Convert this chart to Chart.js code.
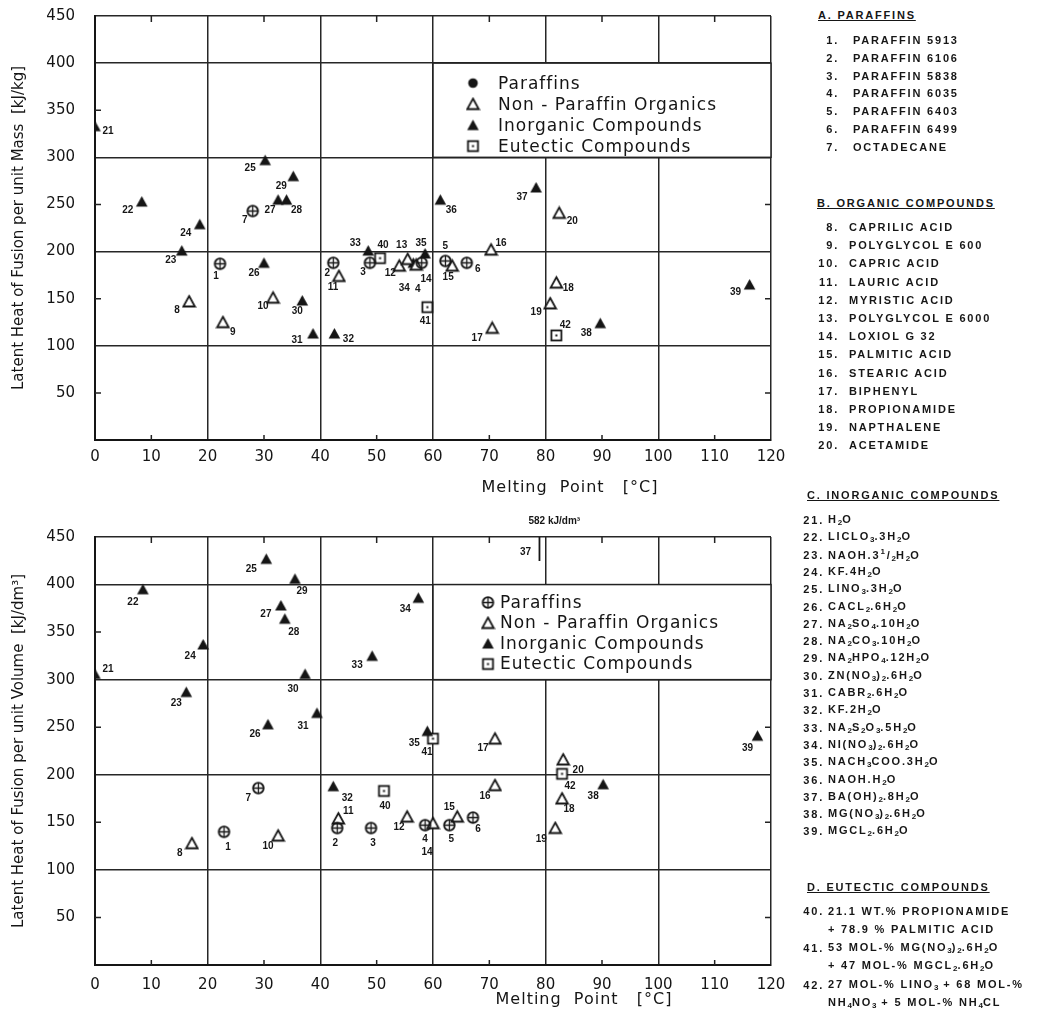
<!DOCTYPE html>
<html>
<head>
<meta charset="utf-8">
<script src="https://cdn.jsdelivr.net/npm/chart.js@4.4.1/dist/chart.umd.min.js"></script>
<style>
  body { margin: 0; background: #fff; width: 1056px; height: 1018px; overflow: hidden; position: relative; }
  #massChart { position: absolute; left: 0; top: 0; }
  #volChart { position: absolute; left: 0; top: 505px; }
  #names div { position: absolute; white-space: nowrap; transform: translateY(-50%);
               font: bold 11px "Liberation Sans", sans-serif; letter-spacing: 1.8px; color: #161616; }
  #names .hd { text-decoration: underline; }
  #names sub { font-size: 8px; vertical-align: -2px; letter-spacing: 0; }
</style>
</head>
<body>
<canvas id="massChart" width="800" height="505"></canvas>
<canvas id="volChart" width="800" height="513"></canvas>
<div id="names"></div>

<script>
// material numbers, grouped like the key on the right
const paraffinIds  = [1, 2, 3, 4, 5, 6, 7]
const organicIds   = [8, 9, 10, 11, 12, 13, 14, 15, 16, 17, 18, 19, 20]
const inorganicIds = [21, 22, 23, 24, 25, 26, 27, 28, 29, 30, 31, 32, 33, 34, 35, 36, 37, 38, 39]
const eutecticIds  = [40, 41, 42]

// upper chart: melting point [°C] vs latent heat per unit mass [kJ/kg]
const paraffinMelt  = [22.2, 42.3, 48.8, 58, 62.2, 66, 28]
const paraffinMass  = [187, 188, 188, 188, 190, 188, 243]
const organicMelt   = [16.7, 22.7, 31.6, 43.3, 54, 55.5, 57, 63.4, 70.3, 70.5, 81.9, 80.8, 82.4]
const organicMass   = [147, 125, 151, 174, 185, 192, 186, 185, 202, 119, 167, 145, 241]
const inorganicMelt = [0, 8.3, 15.4, 18.6, 30.2, 30, 32.5, 34, 35.2, 36.8, 38.7, 42.5, 48.5, 56.5, 58.6, 61.3, 78.3, 89.7, 116.2]
const inorganicMass = [333, 253, 201, 229, 297, 188, 255, 255, 280, 148, 113, 113, 201, 188, 198, 255, 268, 124, 165]
const eutecticMelt  = [50.6, 59, 81.9]
const eutecticMass  = [193, 141, 111]

// lower chart: melting point [°C] vs latent heat per unit volume [kJ/dm3]; null = not shown
const paraffinMeltV  = [22.9, 43, 49, 58.6, 62.9, 67.1, 29]
const paraffinVol    = [140, 144, 144, 147, 147, 155, 186]
const organicMeltV   = [17.2, null, 32.5, 43.2, 55.4, null, 60, 64.3, 71, 71, 82.9, 81.7, 83.1]
const organicVol     = [128, null, 136, 154, 156, null, 149, 156, 189, 238, 175, 144, 216]
const inorganicMeltV = [0, 8.5, 16.2, 19.2, 30.4, 30.7, 33, 33.7, 35.5, 37.3, 39.4, 42.3, 49.2, 57.4, 59, null, 78.9, 90.2, 117.6]
const inorganicVol   = [306, 395, 287, 337, 427, 253, 378, 364, 406, 306, 265, 188, 325, 386, 246, null, 582, 190, 241]
const eutecticMeltV  = [51.3, 60, 82.9]
const eutecticVol    = [183, 238, 201]

// names for the key
const groupTitles = ['A.  PARAFFINS', 'B.  ORGANIC COMPOUNDS', 'C.  INORGANIC COMPOUNDS', 'D.  EUTECTIC COMPOUNDS']
const paraffinNames = ['PARAFFIN 5913', 'PARAFFIN 6106', 'PARAFFIN 5838', 'PARAFFIN 6035', 'PARAFFIN 6403', 'PARAFFIN 6499', 'OCTADECANE']
const organicNames = ['CAPRILIC ACID', 'POLYGLYCOL E 600', 'CAPRIC ACID', 'LAURIC ACID', 'MYRISTIC ACID', 'POLYGLYCOL E 6000',
  'LOXIOL G 32', 'PALMITIC ACID', 'STEARIC ACID', 'BIPHENYL', 'PROPIONAMIDE', 'NAPTHALENE', 'ACETAMIDE']
const inorganicNames = ['H<sub>2</sub>O', 'LICLO<sub>3</sub>.3H<sub>2</sub>O', 'NAOH.3<sup style="font-size:8px">1</sup>/<sub>2</sub>H<sub>2</sub>O',
  'KF.4H<sub>2</sub>O', 'LINO<sub>3</sub>.3H<sub>2</sub>O', 'CACL<sub>2</sub>.6H<sub>2</sub>O', 'NA<sub>2</sub>SO<sub>4</sub>.10H<sub>2</sub>O',
  'NA<sub>2</sub>CO<sub>3</sub>.10H<sub>2</sub>O', 'NA<sub>2</sub>HPO<sub>4</sub>.12H<sub>2</sub>O', 'ZN(NO<sub>3</sub>)<sub>2</sub>.6H<sub>2</sub>O',
  'CABR<sub>2</sub>.6H<sub>2</sub>O', 'KF.2H<sub>2</sub>O', 'NA<sub>2</sub>S<sub>2</sub>O<sub>3</sub>.5H<sub>2</sub>O',
  'NI(NO<sub>3</sub>)<sub>2</sub>.6H<sub>2</sub>O', 'NACH<sub>3</sub>COO.3H<sub>2</sub>O', 'NAOH.H<sub>2</sub>O',
  'BA(OH)<sub>2</sub>.8H<sub>2</sub>O', 'MG(NO<sub>3</sub>)<sub>2</sub>.6H<sub>2</sub>O', 'MGCL<sub>2</sub>.6H<sub>2</sub>O']
const eutecticNames = [
  ['21.1 WT.% PROPIONAMIDE', '+ 78.9 % PALMITIC ACID'],
  ['53 MOL-% MG(NO<sub>3</sub>)<sub>2</sub>.6H<sub>2</sub>O', '+ 47 MOL-% MGCL<sub>2</sub>.6H<sub>2</sub>O'],
  ['27 MOL-% LINO<sub>3</sub> + 68 MOL-%', 'NH<sub>4</sub>NO<sub>3</sub> + 5 MOL-% NH<sub>4</sub>CL']]

const legendNames = ['Paraffins', 'Non - Paraffin Organics', 'Inorganic Compounds', 'Eutectic Compounds']

// where each number sits next to its marker (pixels)
const massLabelPos = {1:[-4,12], 2:[-6,10], 3:[-7,9], 4:[-4,26], 5:[0,-15], 6:[11,6], 7:[-8,9], 8:[-12,9], 9:[10,10],
  10:[-10,9], 11:[-6,11], 12:[-9,8], 13:[-6,-14], 14:[10,15], 15:[-4,12], 16:[10,-6], 17:[-15,10], 18:[12,6], 19:[-14,9],
  20:[13,8], 21:[13,5], 22:[-14,9], 23:[-11,10], 24:[-14,9], 25:[-15,8], 26:[-10,10], 27:[-8,11], 28:[10,11], 29:[-12,10],
  30:[-5,11], 31:[-16,7], 32:[14,6], 33:[-13,-7], 34:[-9,25], 35:[-4,-10], 36:[11,11], 37:[-14,10], 38:[-14,10],
  39:[-14,8], 40:[3,-13], 41:[-2,14], 42:[9,-10]}
const volLabelPos = {1:[4,15], 2:[-2,15], 3:[2,15], 4:[0,14], 5:[2,14], 6:[5,12], 7:[-10,10], 8:[-12,10], 10:[-10,11],
  11:[10,-7], 12:[-8,11], 14:[-6,29], 15:[-8,-9], 16:[-10,11], 17:[-12,10], 18:[7,11], 19:[-14,11], 20:[15,11],
  21:[13,-5], 22:[-10,13], 23:[-10,11], 24:[-13,12], 25:[-15,10], 26:[-13,10], 27:[-15,9], 28:[9,13], 29:[7,12],
  30:[-12,15], 31:[-14,13], 32:[14,12], 33:[-15,9], 34:[-13,11], 35:[-13,12], 37:[-14,15], 38:[-10,12], 39:[-10,12],
  40:[1,15], 41:[-6,14], 42:[8,12]}

// marker pictures
function makeMark(kind) {
  const c = document.createElement('canvas')
  c.width = 15; c.height = 15
  const g = c.getContext('2d')
  g.strokeStyle = '#151515'; g.fillStyle = '#151515'; g.lineWidth = 1.8
  if (kind == 'plus') {
    g.beginPath(); g.arc(7.5, 7.5, 5.3, 0, Math.PI * 2); g.stroke()
    g.beginPath(); g.moveTo(2.5, 7.5); g.lineTo(12.5, 7.5); g.moveTo(7.5, 2.5); g.lineTo(7.5, 12.5); g.lineWidth = 1.3; g.stroke()
  } else if (kind == 'dot') {
    g.beginPath(); g.arc(7.5, 7.5, 4.8, 0, Math.PI * 2); g.fill()
  } else if (kind == 'open' || kind == 'solid') {
    g.beginPath(); g.moveTo(7.5, 2); g.lineTo(13.3, 12.5); g.lineTo(1.7, 12.5); g.closePath()
    if (kind == 'solid') g.fill()
    else { g.fillStyle = '#fff'; g.fill(); g.stroke() }
  } else {
    g.fillStyle = '#fff'; g.fillRect(2.5, 2.5, 10, 10); g.strokeRect(2.5, 2.5, 10, 10)
    g.fillStyle = '#151515'; g.fillRect(6.5, 6.5, 2, 2)
  }
  return c
}
const marks = { plus: makeMark('plus'), dot: makeMark('dot'), open: makeMark('open'), solid: makeMark('solid'), box: makeMark('box') }

function points(ids, xs, ys) {
  const out = []
  ids.forEach((id, i) => { if (xs[i] != null && ys[i] != null) out.push({ x: xs[i], y: ys[i], id: id }) })
  return out
}

function groups(pm, ph, om, oh, im, ih, em, eh) {
  return [
    { label: legendNames[0], data: points(paraffinIds, pm, ph), pointStyle: marks.plus },
    { label: legendNames[1], data: points(organicIds, om, oh), pointStyle: marks.open },
    { label: legendNames[2], data: points(inorganicIds, im, ih), pointStyle: marks.solid },
    { label: legendNames[3], data: points(eutecticIds, em, eh), pointStyle: marks.box }
  ]
}

// numbers beside the markers; values above the axis get a short stroke at the top edge
const numberPlugin = {
  id: 'numbers',
  afterDatasetsDraw(chart, args, opts) {
    const ctx = chart.ctx, xs = chart.scales.x, ys = chart.scales.y
    ctx.save()
    ctx.font = 'bold 10px "Liberation Sans"'
    ctx.fillStyle = '#161616'; ctx.strokeStyle = '#161616'
    ctx.textBaseline = 'middle'
    chart.data.datasets.forEach(ds => ds.data.forEach(p => {
      const px = xs.getPixelForValue(p.x)
      let py = ys.getPixelForValue(p.y)
      if (p.y > ys.max) {
        py = ys.top
        ctx.lineWidth = 1.8
        ctx.beginPath(); ctx.moveTo(px, py); ctx.lineTo(px, py + 24); ctx.stroke()
        ctx.textAlign = 'left'
        ctx.fillText(p.y + ' kJ/dm³', px - 11, py - 16)
      }
      const off = opts.pos[p.id] || [-12, 10]
      ctx.textAlign = 'center'
      ctx.fillText(String(p.id), px + off[0], py + off[1])
    }))
    ctx.restore()
  }
}

// white key box inside the plot, plus short inner ticks and the x title
const framePlugin = {
  id: 'frame',
  afterDatasetsDraw(chart, args, opts) {
    const ctx = chart.ctx, xs = chart.scales.x, ys = chart.scales.y, a = chart.chartArea
    ctx.save()
    ctx.strokeStyle = '#222'; ctx.lineWidth = 1.5
    for (let v = 10; v < 120; v += 20) {
      const px = xs.getPixelForValue(v)
      ctx.beginPath(); ctx.moveTo(px, a.top); ctx.lineTo(px, a.top + 6); ctx.moveTo(px, a.bottom); ctx.lineTo(px, a.bottom - 5); ctx.stroke()
    }
    for (let v = 50; v < 450; v += 100) {
      const py = ys.getPixelForValue(v)
      ctx.beginPath(); ctx.moveTo(a.left, py); ctx.lineTo(a.left + 6, py); ctx.moveTo(a.right, py); ctx.lineTo(a.right - 6, py); ctx.stroke()
    }
    const l = xs.getPixelForValue(60), r = xs.getPixelForValue(120)
    const t = ys.getPixelForValue(400), b = ys.getPixelForValue(300)
    ctx.fillStyle = '#fff'; ctx.fillRect(l, t, r - l, b - t)
    ctx.strokeRect(l, t, r - l, b - t)
    const k = opts.key
    const icons = [k.first, marks.open, marks.solid, marks.box]
    ctx.font = '17px "DejaVu Sans"'; ctx.letterSpacing = '1px'
    ctx.fillStyle = '#151515'; ctx.textBaseline = 'middle'; ctx.textAlign = 'left'
    legendNames.forEach((name, i) => {
      const y = t + k.top + i * k.step
      ctx.drawImage(icons[i], l + k.icon - 7.5, y - 7.5)
      ctx.fillText(name, l + k.text, y + 1)
    })
    ctx.font = '16px "DejaVu Sans"'; ctx.textAlign = 'center'
    ctx.fillText(opts.xTitle, opts.titleX, opts.titleY)
    ctx.restore()
  }
}

function makeChart(id, sets, cfg) {
  return new Chart(document.getElementById(id), {
    type: 'scatter',
    data: { datasets: sets },
    options: {
      responsive: false,
      animation: false,
      layout: { padding: { top: cfg.top, right: 29, left: 0, bottom: 0 } },
      elements: { point: { radius: 6, hoverRadius: 6 } },
      plugins: {
        legend: { display: false },
        tooltip: { enabled: false },
        numbers: { pos: cfg.pos },
        frame: { key: cfg.key, xTitle: 'Melting  Point   [°C]', titleX: cfg.titleX, titleY: cfg.titleY }
      },
      scales: {
        x: {
          min: 0, max: 120,
          ticks: { stepSize: 10, autoSkip: false, maxRotation: 0, color: '#151515', padding: cfg.xPad, font: { size: 15 } },
          grid: { color: c => c.tick.value % 20 == 0 ? '#262626' : 'rgba(0,0,0,0)', lineWidth: 1.5, drawTicks: false },
          border: { color: '#151515', width: 2 },
          afterFit: s => { s.height = cfg.xHeight; s.paddingLeft = 0; s.paddingRight = 0 }
        },
        y: {
          min: 0, max: 450,
          ticks: { stepSize: 50, color: '#151515', padding: 20, font: { size: 15 }, callback: v => v == 0 ? '' : v },
          grid: { color: c => (c.tick.value % 100 == 0 || c.tick.value == 450) ? '#262626' : 'rgba(0,0,0,0)', lineWidth: 1.5, drawTicks: false },
          border: { color: '#151515', width: 2 },
          title: { display: true, text: cfg.yTitle, color: '#151515', font: { size: 15 }, padding: { top: 10, bottom: 0 } },
          afterFit: s => { s.width = 95; s.paddingTop = 0; s.paddingBottom = 0 }
        }
      }
    },
    plugins: [numberPlugin, framePlugin]
  })
}

Chart.defaults.font.family = '"DejaVu Sans", sans-serif'

makeChart('massChart',
  groups(paraffinMelt, paraffinMass, organicMelt, organicMass, inorganicMelt, inorganicMass, eutecticMelt, eutecticMass),
  { top: 16, xHeight: 65, xPad: 8, pos: massLabelPos, titleX: 570, titleY: 488,
    yTitle: 'Latent Heat of Fusion per unit Mass  [kJ/kg]', key: { first: marks.dot, icon: 40, text: 65, top: 20, step: 21 } })

makeChart('volChart',
  groups(paraffinMeltV, paraffinVol, organicMeltV, organicVol, inorganicMeltV, inorganicVol, eutecticMeltV, eutecticVol),
  { top: 32, xHeight: 53, xPad: 11, pos: volLabelPos, titleX: 584, titleY: 495,
    yTitle: 'Latent Heat of Fusion per unit Volume  [kJ/dm³]', key: { first: marks.plus, icon: 55, text: 67, top: 18, step: 20.5 } })

// key of material names on the right
const box = document.getElementById('names')
function put(html, x, y, cls) {
  const d = document.createElement('div')
  d.innerHTML = html
  d.style.left = x + 'px'; d.style.top = y + 'px'
  if (cls) d.className = cls
  box.appendChild(d)
}
function putNum(n, right, y) {
  const d = document.createElement('div')
  d.textContent = n + '.'
  d.style.left = (right - 40) + 'px'; d.style.width = '40px'; d.style.textAlign = 'right'; d.style.top = y + 'px'
  box.appendChild(d)
}
function section(title, hx, hy, ids, names, numRight, textLeft, y0, step) {
  put(title, hx, hy, 'hd')
  ids.forEach((id, i) => { putNum(id, numRight, y0 + i * step); put(names[i], textLeft, y0 + i * step) })
}
section(groupTitles[0], 818, 15, paraffinIds, paraffinNames, 839, 853, 40, 17.8)
section(groupTitles[1], 817, 203, organicIds, organicNames, 839, 849, 227, 18.2)
section(groupTitles[2], 807, 495, inorganicIds, inorganicNames, 824, 828, 520, 17.3)
put(groupTitles[3], 807, 887, 'hd')
eutecticIds.forEach((id, i) => {
  const y = 911 + i * 37
  putNum(id, 824, y)
  put(eutecticNames[i][0], 828, y)
  put(eutecticNames[i][1], 828, y + 18)
})
</script>
</body>
</html>
